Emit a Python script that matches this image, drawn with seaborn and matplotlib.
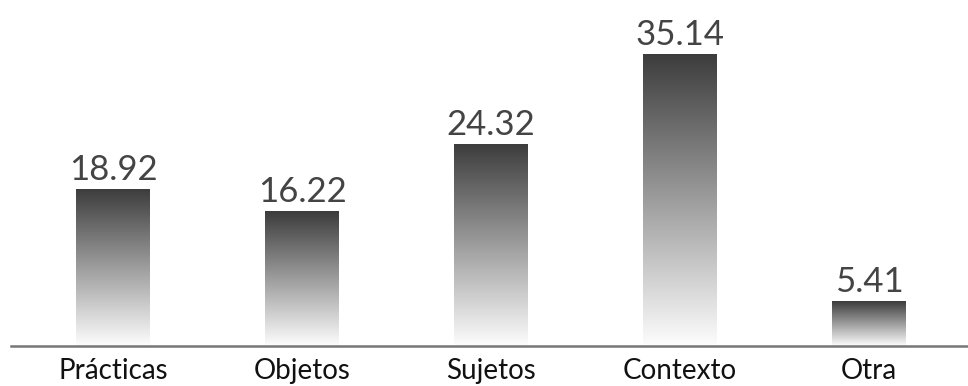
import numpy as np
import pandas as pd
import matplotlib.pyplot as plt
import seaborn as sns
from matplotlib.colors import LinearSegmentedColormap

sns.set_style("white")
plt.rcParams['font.family'] = ['Lato', 'DejaVu Sans']

categories = ['Prácticas', 'Objetos', 'Sujetos', 'Contexto', 'Otra']
values = [18.92, 16.22, 24.32, 35.14, 5.41]

df = pd.DataFrame({'cat': categories, 'val': values})

fig, ax = plt.subplots(figsize=(9.68, 3.86), dpi=100)
fig.subplots_adjust(left=0.0114, right=1, top=1, bottom=0.104)

sns.barplot(data=df, x='cat', y='val', color='#444444', width=0.39, ax=ax)

# vertical gradient inside every bar: dark at top, almost white at bottom
cmap = LinearSegmentedColormap.from_list('g', ['#fdfdfd', '#3c3c3c'])
grad = np.linspace(0, 1, 256).reshape(-1, 1)
for p in ax.patches:
    x0, w, h = p.get_x(), p.get_width(), p.get_height()
    im = ax.imshow(grad, cmap=cmap, origin='lower', aspect='auto',
                   extent=[x0, x0 + w, 0, h], zorder=p.get_zorder() + 0.1)
    im.set_clip_path(p)
    p.set_facecolor('none')
    p.set_edgecolor('none')
    ax.text(x0 + w / 2, h + 0.35, f'{h:.2f}', ha='center', va='bottom',
            fontsize=25, color='#444444')

ax.set_xlim(-0.54, 4.524)
ax.set_ylim(0, 41.6)
ax.set_xlabel('')
ax.set_ylabel('')
ax.set_yticks([])
ax.tick_params(axis='x', length=0, labelsize=20, pad=9, colors='#111111')
for s in ['top', 'left', 'right']:
    ax.spines[s].set_visible(False)
ax.spines['bottom'].set_color('#777777')
ax.spines['bottom'].set_linewidth(1.8)

plt.savefig('out.png', dpi=100)
